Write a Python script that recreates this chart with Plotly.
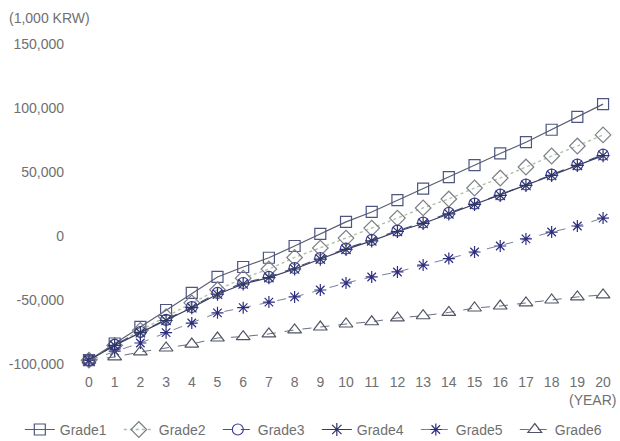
import plotly.graph_objects as go

years = list(range(0, 21))
grade1 = [-97000, -84000, -71000, -57800, -44500, -32000, -24200, -17000, -7800, 1600, 11000,
          18800, 28000, 37000, 46000, 55300, 64500, 73300, 83000, 93000, 103000]
grade2 = [-97000, -85500, -73700, -63000, -52200, -42000, -33000, -25800, -16800, -9400, -1600,
          6200, 14000, 21900, 28900, 37500, 45300, 53900, 62500, 70300, 79000]
grade3 = [-97000, -85000, -75000, -65500, -55500, -44500, -36700, -32000, -25000, -17200, -9800,
          -3100, 4200, 10500, 18000, 25300, 32300, 40200, 48000, 55800, 63500]
grade4 = [-97000, -85500, -75500, -66000, -56000, -45500, -37500, -32500, -25800, -18000, -10500,
          -3800, 3500, 9800, 17300, 24700, 31800, 39500, 47300, 55200, 62800]
grade5 = [-97000, -90000, -83600, -75500, -68000, -60000, -56000, -51600, -47600, -42200, -36700,
          -32000, -28100, -22700, -17600, -12500, -7800, -2300, 3100, 7800, 14000]
grade6 = [-97000, -94500, -90600, -87500, -84400, -79700, -78600, -76500, -73400, -71100, -68750,
          -67000, -64000, -62300, -59700, -56250, -54700, -52300, -50000, -47600, -46000]

y_ticks = [-100000, -50000, 0, 50000, 100000, 150000]
y_ticklabels = ["-100,000", "-50,000", "0", "50,000", "100,000", "150,000"]

# name, values, symbol, marker colour, line colour, dash, line width, marker size
series = [
    ("Grade1", grade1, "square-open", "#4d5580", "#5a5f70", "solid", 1.2, 11),
    ("Grade2", grade2, "diamond-open", "#7d8088", "#a9bfa0", "dot", 1.3, 12),
    ("Grade3", grade3, "circle-open", "#3c3f9a", "#4a4f80", "dash", 1.2, 11),
    ("Grade4", grade4, "asterisk-open", "#2e3568", "#3a3f60", "solid", 1.2, 11),
    ("Grade5", grade5, "asterisk-open", "#2e2e80", "#7a7f99", "dash", 1.0, 10),
    ("Grade6", grade6, "triangle-up-open", "#505566", "#6a6f80", "dash", 1.0, 12),
]

fig = go.Figure()
for name, vals, sym, mcol, lcol, dash, lw, ms in series:
    fig.add_trace(go.Scatter(
        x=years, y=vals, name=name, mode="lines+markers",
        line=dict(color=lcol, width=lw, dash=dash),
        marker=dict(symbol=sym, size=ms, color=mcol, line=dict(color=mcol, width=1.2)),
        cliponaxis=False,
    ))

fig.update_layout(
    width=620, height=441,
    margin=dict(l=72, r=10, t=44, b=77, autoexpand=False),
    paper_bgcolor="white", plot_bgcolor="white",
    font=dict(family="Liberation Sans, Arial, sans-serif", size=14, color="#707070"),
    showlegend=True,
    legend=dict(orientation="h", xref="paper", yref="paper",
                x=-0.097, y=-0.206, xanchor="left", yanchor="middle",
                entrywidth=54, entrywidthmode="pixels",
                font=dict(size=14, color="#707070"), itemwidth=30),
    xaxis=dict(range=[-0.66, 20.27], tickmode="array", tickvals=years,
               ticktext=[str(y) for y in years], showgrid=False, zeroline=False,
               showline=False, ticks="", ticklabelstandoff=8,
               tickfont=dict(size=14, color="#707070")),
    yaxis=dict(range=[-100000, 150000], tickmode="array", tickvals=y_ticks,
               ticktext=y_ticklabels, showgrid=False, zeroline=False, showline=False,
               ticks="", ticklabelstandoff=7, tickfont=dict(size=14, color="#707070")),
    annotations=[
        dict(text="(1,000 KRW)", xref="paper", yref="paper", x=-0.121, y=1.0,
             yshift=26, xanchor="left", yanchor="middle", showarrow=False,
             font=dict(size=14, color="#707070")),
        dict(text="(YEAR)", xref="paper", yref="paper", x=1.0, y=0, xanchor="right",
             xshift=8, yanchor="middle", yshift=-36, showarrow=False,
             font=dict(size=14, color="#707070")),
    ],
)

fig.write_html("out.html", config={"displayModeBar": False},
               post_script="document.body.style.margin='0';document.body.style.overflow='hidden';")
